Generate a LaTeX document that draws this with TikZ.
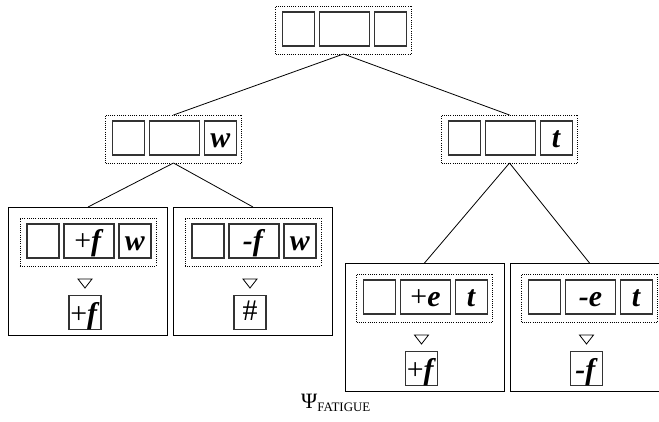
\documentclass[tikz,border=0pt]{standalone}
\usepackage{fontspec}
\setmainfont{Liberation Serif}
\tikzset{
  sqbox/.style={draw=black!80, line width=1.1bp, minimum height=34bp, inner sep=0pt, outer sep=0pt},
  smallsq/.style={sqbox, minimum width=32bp},
  widesq/.style={sqbox, minimum width=50bp},
  grp/.style={draw, dash pattern=on 1bp off 1.2bp, line width=0.9bp, minimum width=136bp, minimum height=48bp, inner sep=0pt, outer sep=0pt},
  panel/.style={draw, line width=0.9bp, minimum width=159bp, minimum height=128bp, inner sep=0pt, outer sep=0pt},
  lbl/.style={font=\fontsize{30}{30}\selectfont, anchor=base, inner sep=0pt},
  edge/.style={line width=0.8bp},
  tri/.style={line width=0.8bp},
}
\newcommand\grpbox[5]{%
  \node[grp] (#1) at (#2, #3+24) {};
  \node[smallsq] (#1a) at (#2-45, #3+23) {};
  \node[widesq] (#1b) at (#2+1, #3+23) {};
  \node[smallsq] (#1c) at (#2+47, #3+23) {};
  \node[lbl] (#1bt) at ([yshift=8bp]#1b.south) {#4};
  \node[lbl] (#1ct) at ([yshift=8bp]#1c.south) {#5};
}
\newcommand\panelbox[7]{% name, cx, top, mid, right, result
  \node[panel] (#1) at (#2, #3+64) {};
  \grpbox{#1g}{#2}{#3+11}{#4}{#5}
  \draw[tri] (#2-10, #3+72) -- (#2+4, #3+72) -- (#2-3, #3+81) -- cycle;
  \node[smallsq] (#1r) at (#2-3, #3+105.5) {};
  \node[lbl] (#1rt) at ([yshift=#7]#1r.south) {#6};
}
\newcommand\bi[1]{\textbf{\textit{#1}}}
\begin{document}
\begin{tikzpicture}[x=1bp,y=-1bp]
\path[use as bounding box, clip] (0,0) rectangle (659,421);
% top
\grpbox{top}{343.5}{6}{}{}
% level 2
\grpbox{L}{173.5}{115}{}{\bi{w}}
\grpbox{R}{509.5}{115}{}{\bi{t}}
% level 3
\panelbox{LL}{88}{207}{+\bi{f}}{\bi{w}}{+\bi{f}}{6bp}
\panelbox{LR}{253}{207}{\bi{-f}}{\bi{w}}{\#}{9bp}
\panelbox{RL}{424.5}{263}{+\bi{e}}{\bi{t}}{+\bi{f}}{6bp}
\panelbox{RR}{589.5}{263}{\bi{-e}}{\bi{t}}{\bi{-f}}{6bp}
% edges
\draw[edge] (top.south) -- (L.north);
\draw[edge] (top.south) -- (R.north);
\draw[edge] (L.south) -- (LL.north);
\draw[edge] (L.south) -- (LR.north);
\draw[edge] (R.south) -- (RL.north);
\draw[edge] (R.south) -- (RR.north);
% caption
\node[anchor=base west, inner sep=0pt] (cap) at (301,408) {\fontsize{22}{22}\selectfont Ψ\raisebox{-3bp}{\fontsize{13}{13}\selectfont FATIGUE}};
\end{tikzpicture}
\end{document}
